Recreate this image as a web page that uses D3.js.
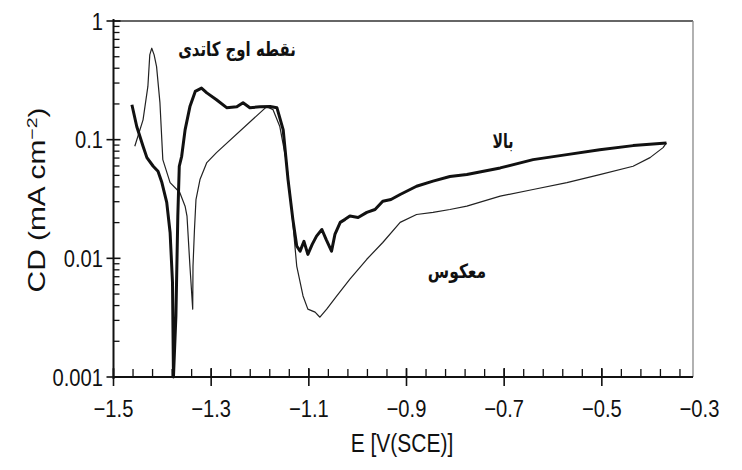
<!DOCTYPE html>
<html><head><meta charset="utf-8">
<script src="https://cdn.jsdelivr.net/npm/d3@7"></script>
<style>body{margin:0;background:#fff}svg{display:block}</style>
</head><body>
<script>
// Forward (upward) scan — thick curve
const forwardE = [-1.4623,-1.4524,-1.4395,-1.4316,-1.4187,-1.4089,-1.4009,-1.3910,-1.3841,-1.3792,-1.3772,-1.3722,-1.3683,-1.3653,-1.3604,-1.3534,-1.3435,-1.3326,-1.3198,-1.3089,-1.2891,-1.2683,-1.2475,-1.2347,-1.2208,-1.2000,-1.1792,-1.1654,-1.1525,-1.1426,-1.1327,-1.1248,-1.1179,-1.1100,-1.1020,-1.0931,-1.0842,-1.0733,-1.0644,-1.0535,-1.0466,-1.0357,-1.0258,-1.0159,-0.9991,-0.9813,-0.9645,-0.9486,-0.9318,-0.9130,-0.8794,-0.8457,-0.8111,-0.7764,-0.7081,-0.6408,-0.5716,-0.5043,-0.4360,-0.3677];
const forwardCD = [0.197,0.129,0.088,0.0706,0.0597,0.0542,0.0435,0.0296,0.0165,0.00629,0.001,0.00327,0.0227,0.0597,0.0724,0.121,0.190,0.255,0.272,0.248,0.217,0.186,0.189,0.205,0.186,0.189,0.190,0.186,0.121,0.0461,0.0213,0.0127,0.0115,0.0139,0.0108,0.0131,0.0154,0.0175,0.0144,0.0115,0.0159,0.0201,0.0213,0.0227,0.0221,0.0244,0.0258,0.0303,0.0313,0.0345,0.0405,0.0447,0.0489,0.0508,0.0578,0.0679,0.0748,0.0824,0.0891,0.0938];
// Reverse scan — thin curve
const reverseE = [-0.3677,-0.3746,-0.4013,-0.4360,-0.5043,-0.5716,-0.6408,-0.7081,-0.7764,-0.8111,-0.8457,-0.8794,-0.9130,-0.9486,-0.9813,-1.0159,-1.0427,-1.0634,-1.0773,-1.0872,-1.1020,-1.1119,-1.1248,-1.1347,-1.1456,-1.1594,-1.1733,-1.1862,-1.2891,-1.3089,-1.3229,-1.3311,-1.3342,-1.3372,-1.3378,-1.3435,-1.3495,-1.3534,-1.3643,-1.3841,-1.3990,-1.4049,-1.4118,-1.4168,-1.4217,-1.4257,-1.4296,-1.4395,-1.4564];
const reverseCD = [0.0938,0.0857,0.0706,0.0597,0.0508,0.0435,0.0380,0.0334,0.0275,0.0258,0.0244,0.0234,0.0201,0.0136,0.00982,0.00667,0.00482,0.00373,0.00319,0.00352,0.00373,0.00482,0.00861,0.0244,0.0641,0.129,0.179,0.190,0.0778,0.0641,0.0461,0.0313,0.0175,0.00861,0.00373,0.00861,0.0227,0.0275,0.0359,0.0435,0.0679,0.205,0.413,0.518,0.590,0.518,0.281,0.147,0.088];
const xTickValues = [-1.5,-1.3,-1.1,-0.9,-0.7,-0.5,-0.3];
const xTickLabels = ["\u22121.5","\u22121.3","\u22121.1","\u22120.9","\u22120.7","\u22120.5","\u22120.3"];
const yTickValues = [0.001,0.01,0.1,1];
const yTickLabels = ["0.001","0.01","0.1","1"];
const labels = {peak:"نقطه اوج کاتدی", up:"بالا", rev:"معکوس"};

const W=742,H=470;
const T=21,B=377,R=693;
const svg=d3.select("body").append("svg").attr("width",W).attr("height",H);
const x=d3.scaleLinear().domain([-1.5,-0.3]).range([113.5,699.5]);
const y=d3.scaleLog().domain([0.001,1]).range([B,T]);
const L=x(-1.5);
const font="'Liberation Sans', Arial, sans-serif";
const SX=0.84;
function htext(g,tx,ty,size,anchor,str){
  return g.append("text").attr("transform",`translate(${tx},${ty}) scale(${SX},1)`).attr("text-anchor",anchor)
   .attr("font-family",font).attr("font-size",size).attr("fill","#111").text(str);
}

// frame
svg.append("line").attr("x1",L).attr("x2",R).attr("y1",T).attr("y2",T).attr("stroke","#333").attr("stroke-width",1.6);
svg.append("line").attr("x1",R).attr("x2",R).attr("y1",T).attr("y2",B).attr("stroke","#888").attr("stroke-width",1.3);
svg.append("line").attr("x1",L).attr("x2",L).attr("y1",T-2).attr("y2",B+2).attr("stroke","#111").attr("stroke-width",2);
svg.append("line").attr("x1",L).attr("x2",R).attr("y1",B).attr("y2",B).attr("stroke","#111").attr("stroke-width",2);

// x ticks
const xMinor=d3.range(0,31).map(i=>-1.5+i*0.04).filter(v=>x(v)<=R+0.5);
svg.append("g").selectAll("line").data(xMinor).join("line")
 .attr("x1",d=>x(d)).attr("x2",d=>x(d)).attr("y1",B).attr("y2",B-8).attr("stroke","#111").attr("stroke-width",1.3);
svg.append("g").selectAll("line").data(xTickValues.filter(v=>x(v)<=R)).join("line")
 .attr("x1",d=>x(d)).attr("x2",d=>x(d)).attr("y1",B-9).attr("y2",B+9).attr("stroke","#111").attr("stroke-width",1.6);
const xt=svg.append("g");
xTickValues.forEach((v,i)=>htext(xt,x(v),417,24,"middle",xTickLabels[i]));
htext(svg,402,452,25,"middle","E [V(SCE)]");

// y ticks
const yMinor=[];
[0.001,0.01,0.1].forEach(d=>{for(let k=2;k<10;k++) yMinor.push(d*k);});
svg.append("g").selectAll("line").data(yMinor).join("line")
 .attr("x1",L).attr("x2",L+6).attr("y1",d=>y(d)).attr("y2",d=>y(d)).attr("stroke","#111").attr("stroke-width",1.3);
svg.append("g").selectAll("line").data(yTickValues).join("line")
 .attr("x1",L-7).attr("x2",L+7).attr("y1",d=>y(d)).attr("y2",d=>y(d)).attr("stroke","#111").attr("stroke-width",1.6);
const yt=svg.append("g");
yTickValues.forEach((v,i)=>htext(yt,103,y(v)+8.5,24,"end",yTickLabels[i]));
const yl=svg.append("text").attr("transform","translate(45,200) rotate(-90) scale(1.3,1)").attr("text-anchor","middle").attr("font-family",font).attr("font-size",23).attr("fill","#111");
yl.append("tspan").text("CD (mA cm");
yl.append("tspan").attr("dy",-8).attr("font-size",15).text("\u22122");
yl.append("tspan").attr("dy",8).text(")");

// curves
const line=d3.line().x(d=>x(d[0])).y(d=>y(d[1]));
svg.append("path").datum(reverseE.map((e,i)=>[e,reverseCD[i]])).attr("d",line).attr("fill","none").attr("stroke","#222").attr("stroke-width",1.2).attr("stroke-linejoin","round");
svg.append("path").datum(forwardE.map((e,i)=>[e,forwardCD[i]])).attr("d",line).attr("fill","none").attr("stroke","#111").attr("stroke-width",3).attr("stroke-linejoin","round");

// annotations
const af="'DejaVu Sans', 'Noto Sans', sans-serif";
function atext(tx,ty,sx,str){
  svg.append("text").attr("transform",`translate(${tx},${ty}) scale(${sx},1.1)`).attr("text-anchor","middle").attr("font-family",af).attr("font-weight","bold").attr("font-size",18).attr("fill","#111").text(str);
}
atext(237,56,0.83,labels.peak);
atext(503,148,0.78,labels.up);
atext(457,278,0.86,labels.rev);
</script>
</body></html>
